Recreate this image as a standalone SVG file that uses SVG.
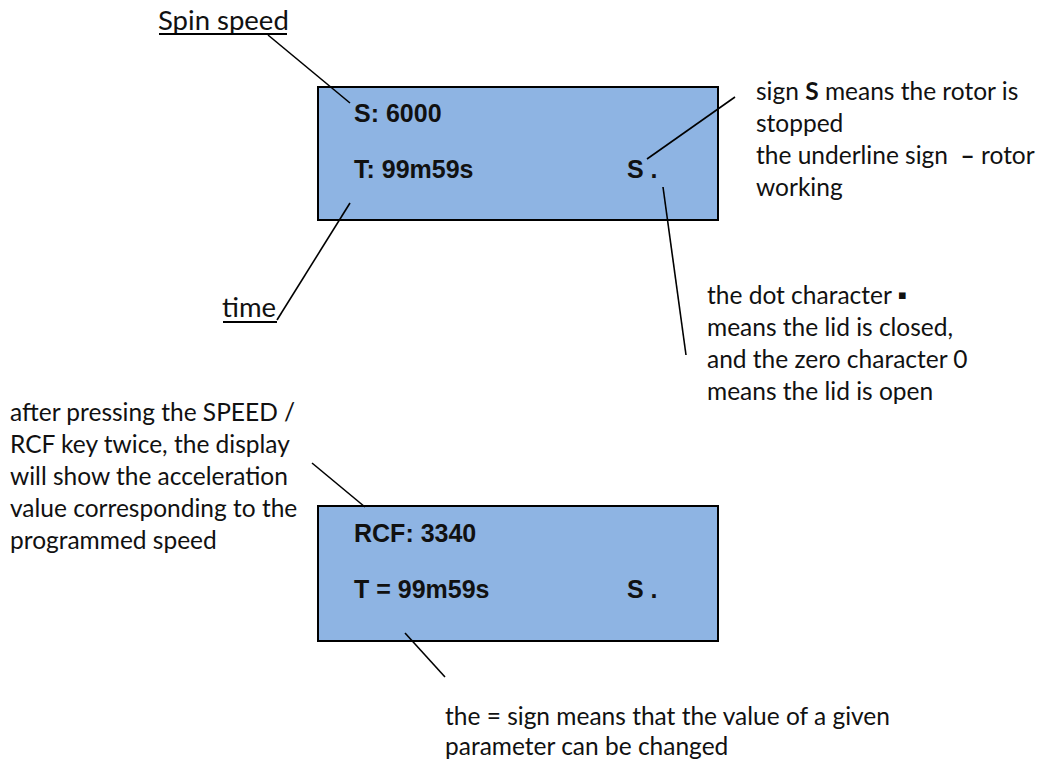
<svg xmlns="http://www.w3.org/2000/svg" width="1042" height="762" viewBox="0 0 1042 762">
<style>
  .bg { fill: #ffffff; }
  .lcd { fill: #8EB4E3; stroke: #000000; stroke-width: 2; }
  .lcdtxt { font-family: "Liberation Sans", Arial, sans-serif; font-weight: bold; font-size: 25px; fill: #111111; }
  .note { font-family: Lato, "Open Sans", "Liberation Sans", sans-serif; font-size: 24.5px; fill: #111111; }
  .label { font-family: Lato, "Open Sans", "Liberation Sans", sans-serif; font-size: 27.5px; fill: #111111; }
  .ul { stroke: #000000; stroke-width: 2; }
  .lead { stroke: #000000; stroke-width: 1.6; fill: none; }
  .b { font-weight: bold; }
</style>
<rect class="bg" x="0" y="0" width="1042" height="762"/>

<g id="display1">
  <rect class="lcd" x="318" y="87" width="400" height="133"/>
  <text class="lcdtxt" x="354" y="122">S: 6000</text>
  <text class="lcdtxt" x="354" y="178">T: 99m59s</text>
  <text class="lcdtxt" x="627" y="178">S .</text>
</g>

<g id="display2">
  <rect class="lcd" x="318" y="506" width="400" height="135"/>
  <text class="lcdtxt" x="354" y="542">RCF: 3340</text>
  <text class="lcdtxt" x="354" y="598">T = 99m59s</text>
  <text class="lcdtxt" x="627" y="598">S .</text>
</g>

<g id="label-spin-speed">
  <text class="label" x="158" y="30">Spin speed</text>
  <line class="ul" x1="159" y1="34" x2="287" y2="34"/>
</g>

<g id="label-time">
  <text class="label" x="222" y="317">time</text>
  <line class="ul" x1="223" y1="322" x2="277" y2="322"/>
</g>

<g id="note-rotor">
  <text class="note" x="756" y="100">sign <tspan class="b">S</tspan> means the rotor is</text>
  <text class="note" x="756" y="132">stopped</text>
  <text class="note" x="756" y="164">the underline sign&#160; <tspan class="b">–</tspan> rotor</text>
  <text class="note" x="756" y="196">working</text>
</g>

<g id="note-lid">
  <text class="note" x="707" y="304">the dot character ▪</text>
  <text class="note" x="707" y="336">means the lid is closed,</text>
  <text class="note" x="707" y="368">and the zero character 0</text>
  <text class="note" x="707" y="400">means the lid is open</text>
</g>

<g id="note-rcf">
  <text class="note" x="10" y="421">after pressing the SPEED /</text>
  <text class="note" x="10" y="453">RCF key twice, the display</text>
  <text class="note" x="10" y="485">will show the acceleration</text>
  <text class="note" x="10" y="517">value corresponding to the</text>
  <text class="note" x="10" y="549">programmed speed</text>
</g>

<g id="note-equal">
  <text class="note" x="445" y="725">the = sign means that the value of a given</text>
  <text class="note" x="445" y="755">parameter can be changed</text>
</g>

<g id="connectors">
  <line class="lead" x1="268" y1="35" x2="350" y2="103"/>
  <line class="lead" x1="277" y1="320" x2="350" y2="203"/>
  <line class="lead" x1="647" y1="159" x2="735" y2="97"/>
  <line class="lead" x1="663" y1="187" x2="686" y2="355"/>
  <line class="lead" x1="312" y1="463" x2="365" y2="507"/>
  <line class="lead" x1="405" y1="633" x2="445" y2="677"/>
</g>
</svg>
